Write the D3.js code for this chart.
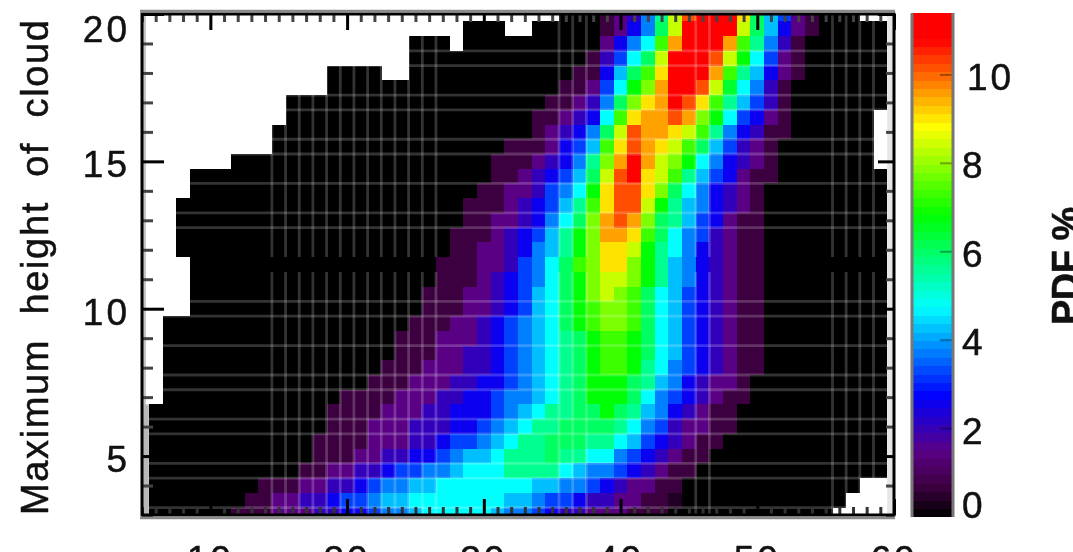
<!DOCTYPE html>
<html lang="en">
<head>
  <meta charset="utf-8"/>
  <title>Maximum height of cloud PDF</title>
  <script src="https://cdn.jsdelivr.net/npm/d3@7/dist/d3.min.js"></script>
  <style>
    html,body { margin:0; padding:0; width:100%; height:100%; overflow:hidden; background:#fff; }
    svg { position:absolute; top:0; left:0; filter:blur(0.5px); }
    text { font-family:"Liberation Sans",sans-serif; fill:#111; stroke:#111; stroke-width:.5px; white-space:pre; }
  </style>
</head>
<body>
<svg width="1073" height="552"></svg>
<script>
const W = 1073, H = 552;

// height of each row of the histogram (km)
const heights = d3.range(20, 2.5, -0.5);

// first and last column holding data in each row, everything else stays white
const firstCol = [36,29,25,25,19,19,16,16,15,15,12,9,9,8,8,8,8,9,9,9,9,7,7,7,7,7,7,6,6,6,6,6,6,6,6];
const lastCol  = [57,59,59,59,59,59,59,58,58,58,58,59,59,59,59,59,59,59,59,59,59,59,59,59,59,59,59,59,59,59,59,59,57,56,55];

// cells without data inside a row: [height, column]
const holes = [[19.5,32],[19.5,33],[19,28],[18,23],[18,24]];

// first column with a non zero pdf in each row, and the pdf values from there on
const colorStart = [39,39,39,38,37,36,35,34,34,32,31,31,30,29,29,28,28,27,27,26,26,25,24,24,23,22,20,19,19,18,18,17,14,13,12];
const pdfRows = [
  [.7,1.5,2.05,3.75,5.65,8.4,10.2,10.8,10.8,10.8,9.05,6.05,4.25,3.25,1.5,.7],
  [.7,1.5,2.6,3.75,6.05,8.4,10.8,10.8,10.8,10.8,8.4,6.05,4.25,2.6,1.5,.7],
  [1.5,2.6,3.75,4.75,7.3,9.55,10.8,10.8,10.8,9.55,7.3,5.65,3.75,2.05,.7],
  [.7,2.05,3.25,4.75,6.05,8.4,10.8,10.8,10.8,10.2,8.4,6.8,4.75,3.25,1.5,.7],
  [.7,.7,2.6,4.25,6.05,7.3,9.05,10.8,10.8,10.8,9.55,7.3,5.65,4.25,2.6,1.5,.7],
  [.7,.7,1.5,3.25,4.75,6.8,7.8,9.55,10.8,10.8,10.2,8.4,6.45,4.75,3.75,2.05,.7],
  [.7,.7,1.5,2.05,3.75,6.05,7.8,9.05,9.55,10.8,10.2,9.05,7.3,5.65,4.25,3.25,2.05,.7],
  [.7,.7,1.5,2.05,2.6,4.75,7.3,9.05,9.55,9.55,10.2,9.55,7.8,6.8,4.75,3.25,2.6,1.5,.7],
  [.7,1.5,2.05,2.6,3.75,6.05,8.4,10.2,9.55,9.55,9.05,8.4,7.3,5.65,3.75,2.6,2.05,.7,.7],
  [.7,.7,.7,1.5,2.6,3.25,4.25,7.3,9.05,10.2,9.55,9.05,8.4,7.3,6.05,4.25,3.25,2.05,1.5,.7],
  [.7,.7,.7,1.5,2.05,2.6,3.75,5.65,7.8,9.55,10.8,9.55,8.4,7.8,6.8,4.75,3.75,2.6,2.05,1.5,.7],
  [.7,.7,1.5,2.05,2.6,3.25,4.25,6.05,8.4,10.2,10.8,9.05,8.4,7.3,5.65,4.25,3.25,2.6,1.5,.7,.7],
  [.7,.7,1.5,1.5,2.05,3.25,3.75,4.75,6.8,9.05,10.2,10.2,9.05,7.8,6.05,4.75,3.75,2.6,2.05,1.5,.7],
  [.7,.7,.7,1.5,2.05,2.6,3.25,4.25,5.65,7.3,9.05,10.2,10.2,8.4,6.8,5.65,4.25,3.75,2.6,2.05,1.5,.7],
  [.7,.7,1.5,1.5,2.05,2.6,3.75,4.75,6.05,7.8,9.55,10.2,9.55,7.8,6.05,5.65,4.25,3.25,2.6,1.5,.7,.7],
  [.7,.7,.7,1.5,2.05,2.6,3.25,4.25,5.65,6.8,7.8,9.55,9.55,9.05,7.3,6.05,4.75,3.75,3.25,2.05,1.5,.7,.7],
  [.7,.7,1.5,1.5,2.05,2.6,3.75,4.25,5.65,6.8,7.8,9.05,9.05,8.4,6.8,5.65,4.75,3.75,2.6,2.05,1.5,.7,.7],
  [.7,.7,.7,1.5,1.5,2.05,3.25,3.75,4.75,6.05,7.3,7.8,9.05,9.05,7.8,6.8,5.65,4.25,3.75,2.6,2.05,1.5,.7,.7],
  [.7,.7,.7,1.5,2.05,2.6,3.25,3.75,4.75,6.05,6.8,7.8,8.4,8.4,7.8,6.8,5.65,4.25,3.75,2.6,2.05,1.5,.7,.7],
  [.7,.7,.7,1.5,1.5,2.05,2.6,3.25,4.25,4.75,6.05,6.8,7.8,8.4,7.8,7.3,6.05,4.75,4.25,3.25,2.6,2.05,1.5,.7,.7],
  [.7,.7,.7,1.5,1.5,2.05,2.6,3.25,4.25,4.75,6.05,6.8,7.3,7.8,7.8,7.3,6.05,4.75,4.25,3.25,2.6,2.05,1.5,.7,.7],
  [.7,.7,.7,1.5,1.5,2.05,2.6,3.25,3.75,4.25,4.75,6.05,6.8,7.3,7.8,7.8,7.3,6.05,4.75,4.25,3.25,2.6,2.05,1.5,.7,.7],
  [.7,.7,.7,1.5,1.5,1.5,2.05,2.6,3.25,3.75,4.25,4.75,5.65,6.05,6.8,7.3,7.3,6.8,6.05,4.75,4.25,3.25,2.6,2.05,1.5,.7,.7],
  [.7,.7,.7,1.5,1.5,2.05,2.05,2.6,3.25,3.75,4.25,4.75,5.65,6.05,6.8,7.3,7.3,6.8,6.05,4.75,4.25,3.25,2.6,2.05,1.5,.7,.7],
  [.7,.7,.7,1.5,1.5,1.5,2.05,2.05,2.6,3.25,3.75,4.25,4.75,5.65,6.05,6.8,7.3,7.3,6.8,5.65,4.75,3.75,3.25,2.6,2.05,1.5,.7,.7],
  [.7,.7,.7,1.5,1.5,1.5,2.05,2.05,2.6,2.6,3.25,3.75,4.25,4.75,5.65,6.05,6.8,6.8,6.8,6.05,5.65,4.25,3.75,2.6,2.05,1.5,1.5,.7],
  [.7,.7,.7,.7,1.5,1.5,1.5,2.05,2.05,2.6,2.6,3.25,3.75,3.75,4.25,4.75,5.65,6.05,6.8,6.8,6.8,6.05,4.75,3.75,3.25,2.6,2.05,1.5,.7,.7],
  [.7,.7,.7,.7,1.5,1.5,1.5,2.05,2.05,2.6,2.6,2.6,3.25,3.75,4.25,4.75,5.65,5.65,6.05,6.05,6.8,6.05,5.65,4.25,3.75,2.6,2.05,1.5,.7,.7],
  [.7,.7,.7,1.5,1.5,1.5,2.05,2.05,2.05,2.6,2.6,3.25,3.75,4.25,4.75,5.65,5.65,6.05,6.05,6.05,6.05,5.65,4.75,3.75,3.25,2.05,1.5,1.5,.7,.7],
  [.7,.7,.7,.7,1.5,1.5,1.5,2.05,2.05,2.6,3.25,3.25,3.75,4.25,4.75,5.65,5.65,6.05,6.05,6.05,5.65,5.65,4.75,4.25,3.25,2.6,2.05,1.5,.7,.7],
  [.7,.7,.7,1.5,1.5,2.05,2.05,2.6,2.6,3.25,3.75,4.25,4.25,4.75,5.65,5.65,5.65,6.05,5.65,5.65,4.75,4.75,3.75,3.25,2.6,2.05,1.5,.7,.7],
  [.7,.7,1.5,1.5,2.05,2.05,2.6,3.25,3.25,3.75,3.75,4.25,4.75,4.75,4.75,5.65,5.65,5.65,5.65,4.75,4.25,3.75,3.75,3.25,2.6,2.05,1.5,.7,.7],
  [.7,.7,.7,1.5,1.5,2.05,2.05,2.6,3.25,3.75,3.75,4.25,4.25,4.75,4.75,4.75,4.75,4.75,4.75,4.75,4.25,4.25,3.75,3.75,3.25,2.6,2.05,1.5,1.5,.7,.7],
  [.7,.7,1.5,1.5,2.05,2.05,2.6,3.25,3.25,3.75,4.25,4.25,4.75,4.75,4.75,4.75,4.75,4.75,4.75,4.25,4.25,3.75,3.25,3.25,2.6,2.05,2.05,1.5,1.5,.7,.7,.4],
  [.7,.7,.7,1.5,1.5,1.5,2.05,2.05,2.6,2.6,3.25,3.75,3.75,4.25,4.75,4.75,4.75,4.75,4.75,4.25,3.75,3.75,3.25,2.6,2.05,2.05,1.5,1.5,1.5,.7,.7,.7]
];

// colour table anchors
const pdfStops   = [0,.7,1.5,2.75,4.75,6.83,8.83,10.8,11.4];
const pdfColours = ["#000000","#3c0040","#5a0085","#0000ff","#00ffff","#00ff00","#ffff00","#ff0000","#ff0000"];

// axis ticks and labels
const xMajor = [10,20,30,40,50,60];
const xMinor = d3.range(5,61);
const yMajor = [5,10,15,20];
const yMinor = d3.range(3,21);
const barTicks = [0,2,4,6,8,10];

// lighter seams between image tiles, in data units
const seamX = [14.5,15.5,16.5,17.5,18.5,19.5,20.5,21.5,22.5,23.5,24.5,25.5,26.5,35.5,36.5,37.5,45.5,46.5,55.5,56.5,57.5,58.5];
const seamY = [18.75,18.25,17.25,16.75,15.75,15.25,14.25,13.25,12.75,10.25,9.75,8.75,7.75,7.25,6.25,5.75,4.75,4.25,3.25];
const noSeamHeight = 11.5;

const svg = d3.select("svg");
const x = d3.scaleLinear().domain([5,60]).range([142,894]);
const y = d3.scaleLinear().domain([3,20]).range([515,14]);
const colour = d3.scaleLinear().domain(pdfStops).range(pdfColours);
const barY = d3.scaleLinear().domain([0,11.4]).range([517,13]);

// flat list of cells
const cells = [];
heights.forEach((h,i) => {
  for (let c = firstCol[i]; c <= lastCol[i]; c++) {
    if (holes.some(d => d[0]===h && d[1]===c)) continue;
    const v = pdfRows[i][c-colorStart[i]];
    cells.push({h:h, c:c, v: v===undefined ? 0 : v});
  }
});

svg.append("clipPath").attr("id","plotClip").append("rect")
  .attr("x",x(5)).attr("y",y(20)).attr("width",x(60)-x(5)).attr("height",y(3)-y(20));

const plot = svg.append("g").attr("clip-path","url(#plotClip)");

function drawCells(g, data) {
  g.selectAll("rect.cell").data(data).join("rect")
    .attr("class","cell")
    .attr("x",d => x(d.c-.5))
    .attr("y",d => y(d.h+.25))
    .attr("width",x(1)-x(0)+.3)
    .attr("height",y(0)-y(.5)+.3)
    .attr("fill",d => colour(d.v))
    .attr("shape-rendering","crispEdges");
}
drawCells(plot.append("g"), cells);

// light bands along the inner side of the frame
plot.append("rect").attr("x",x(5)).attr("y",y(20)).attr("width",4).attr("height",y(3)-y(20)).attr("fill","#c4c4c4");
plot.append("rect").attr("x",x(5)).attr("y",y(6.75)).attr("width",x(5.5)-x(5)).attr("height",y(3)-y(6.75)).attr("fill","#b8b8b8");
plot.append("rect").attr("x",x(59.5)).attr("y",y(20)).attr("width",x(60)-x(59.5)).attr("height",y(3)-y(20)).attr("fill","#e6e6e6");

// seams
plot.selectAll("line.sx").data(seamX).join("line")
  .attr("class","sx")
  .attr("x1",d => x(d)).attr("x2",d => x(d))
  .attr("y1",y(20)).attr("y2",y(3))
  .attr("stroke","#fff").attr("stroke-opacity",.2).attr("stroke-width",2.8);
plot.selectAll("line.sy").data(seamY).join("line")
  .attr("class","sy")
  .attr("x1",x(5.5)).attr("x2",x(59.5))
  .attr("y1",d => y(d)).attr("y2",d => y(d))
  .attr("stroke","#fff").attr("stroke-opacity",.2).attr("stroke-width",2.8);
// the row near 11.5 km shows no seams at all
drawCells(plot.append("g"), cells.filter(d => d.h===noSeamHeight));

// frame ticks
function ticks(g, axis, vals, size, w, col) {
  g.call(axis.tickValues(vals).tickSize(size).tickFormat(""));
  g.select(".domain").remove();
  g.selectAll("line").attr("stroke",col).attr("stroke-width",w);
}
const xMinorOnly = xMinor.filter(d => !xMajor.includes(d));
const yMinorOnly = yMinor.filter(d => !yMajor.includes(d));
ticks(svg.append("g").attr("transform",`translate(0,${y(3)})`), d3.axisBottom(x), xMinorOnly, -8, 3, "#333");
ticks(svg.append("g").attr("transform",`translate(0,${y(3)})`), d3.axisBottom(x), xMajor, -16, 3, "#000");
ticks(svg.append("g").attr("transform",`translate(0,${y(20)})`), d3.axisTop(x), xMinorOnly, -8, 3, "#444");
ticks(svg.append("g").attr("transform",`translate(0,${y(20)})`), d3.axisTop(x), xMajor, -16, 3, "#000");
ticks(svg.append("g").attr("transform",`translate(${x(5)},0)`), d3.axisLeft(y), yMinorOnly, -11, 3, "#444");
ticks(svg.append("g").attr("transform",`translate(${x(5)},0)`), d3.axisLeft(y), yMajor, -22, 3, "#000");
ticks(svg.append("g").attr("transform",`translate(${x(60)},0)`), d3.axisRight(y), yMinorOnly, -8, 3, "#444");
ticks(svg.append("g").attr("transform",`translate(${x(60)},0)`), d3.axisRight(y), yMajor, -16, 3, "#000");

// frame
svg.append("rect").attr("x",x(5)).attr("y",y(20)).attr("width",x(60)-x(5)).attr("height",y(3)-y(20))
  .attr("fill","none").attr("stroke","#000").attr("stroke-width",3);
svg.append("line").attr("x1",x(5)-2).attr("x2",x(60)+1).attr("y1",y(20)-3).attr("y2",y(20)-3)
  .attr("stroke","#8a8a8a").attr("stroke-width",2.5);
svg.append("line").attr("x1",x(5)-2).attr("x2",x(60)+1).attr("y1",y(3)+3).attr("y2",y(3)+3)
  .attr("stroke","#8a8a8a").attr("stroke-width",2.5);

// tick labels
const labelSize = 37;
svg.append("g").selectAll("text").data(xMajor).join("text")
  .attr("x",d => x(d)).attr("y",572)
  .attr("text-anchor","middle").attr("font-size",labelSize).attr("letter-spacing",3)
  .text(d => d);
svg.append("g").selectAll("text").data(yMajor).join("text")
  .attr("x",130).attr("y",d => (d===20 ? y(d)+15 : y(d)+3)+13)
  .attr("text-anchor","end").attr("font-size",labelSize).attr("letter-spacing",3)
  .text(d => d);

svg.append("text")
  .attr("transform",`translate(48,${y(3)}) rotate(-90)`)
  .attr("font-size",38).attr("textLength",495)
  .text("Maximum  height  of  cloud");

// colour bar
const barLevels = d3.range(0,11.4,.19);
svg.append("g").selectAll("rect").data(barLevels).join("rect")
  .attr("x",911).attr("width",43)
  .attr("y",d => barY(d+.19)).attr("height",barY(0)-barY(.19)+.4)
  .attr("fill",d => colour(d+.095)).attr("shape-rendering","crispEdges");
svg.append("g").selectAll("line").data(barTicks.filter(d => d>0)).join("line")
  .attr("x1",940).attr("x2",952).attr("y1",d => barY(d)).attr("y2",d => barY(d))
  .attr("stroke","#000").attr("stroke-opacity",.35).attr("stroke-width",2);
svg.append("g").selectAll("line").data([912,953]).join("line")
  .attr("x1",d => d).attr("x2",d => d).attr("y1",13).attr("y2",517)
  .attr("stroke","#777").attr("stroke-width",3);
svg.append("g").selectAll("text").data(barTicks).join("text")
  .attr("x",d => d===10 ? 967 : 962)
  .attr("y",d => (d===0 ? 505 : barY(d)+2)+13)
  .attr("font-size",labelSize).attr("letter-spacing",3)
  .text(d => d);

svg.append("text")
  .attr("transform",`translate(1079,325) rotate(-90)`)
  .attr("font-size",38).attr("font-weight","bold").attr("letter-spacing",-.5)
  .text("PDF %");
</script>
</body>
</html>
